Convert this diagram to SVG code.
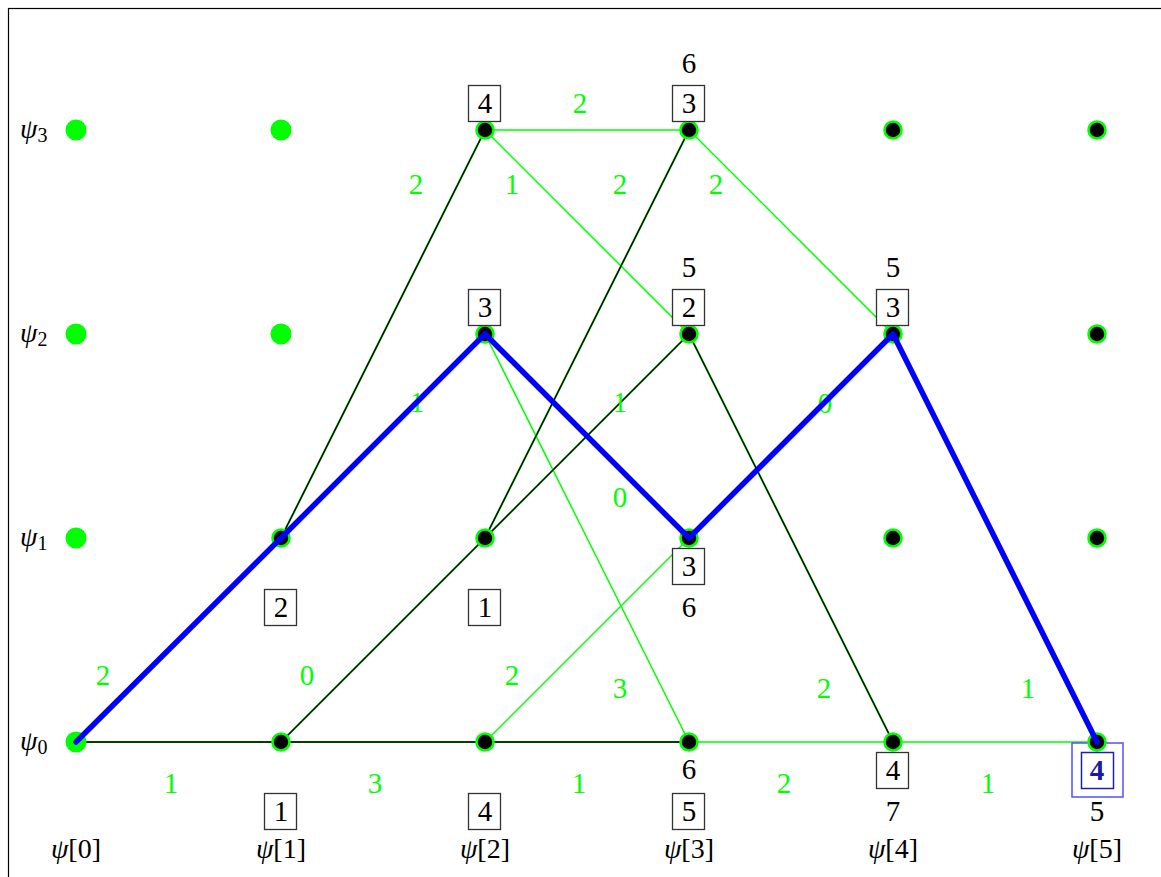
<svg xmlns="http://www.w3.org/2000/svg" width="1161" height="877" viewBox="0 0 1161 877" font-family="'Liberation Serif', 'DejaVu Serif', serif">
<style>
text{font-family:'Liberation Serif','DejaVu Serif',serif;text-anchor:middle;}
.w{fill:#00ff00;font-size:29px;}
.n{fill:#000;font-size:29px;}
.bx{fill:#fff;stroke:#333;stroke-width:1.3;}
.g{stroke:#00ff00;stroke-width:1.5;fill:none;}
.dk{stroke:#00ff00;stroke-width:2.0;fill:none;}
.dk2{stroke:#000;stroke-width:1.4;fill:none;}
.blue{stroke:#0000ff;stroke-width:5.5;fill:none;stroke-linejoin:round;stroke-linecap:round;}
.un{fill:#00ff00;}
.nd{fill:#000;stroke:#00ff00;stroke-width:2.6;}
.lab{font-size:28px;}
</style>
<rect x="8.5" y="8.5" width="1300" height="1000" fill="none" stroke="#000" stroke-width="1.2"/>
<g id="connectors">
<g id="green-edges">
<line class="g" x1="485" y1="130" x2="689" y2="130"/>
<line class="g" x1="485" y1="130" x2="689" y2="334"/>
<line class="g" x1="689" y1="130" x2="893" y2="334"/>
<line class="g" x1="485" y1="334" x2="689" y2="742"/>
<line class="g" x1="485" y1="742" x2="689" y2="538"/>
<line class="g" x1="689" y1="742" x2="1097" y2="742"/>
</g>
<g id="dark-edges">
<path class="dk" d="M76,742H485M281,742L485,538L689,334M281,538L485,130M485,538L689,130M485,742H689M689,334L893,742"/>
<path class="dk2" d="M76,742H485M281,742L485,538L689,334M281,538L485,130M485,538L689,130M485,742H689M689,334L893,742"/>
</g>
</g>
<g id="weights">
<text class="w" x="580" y="113">2</text>
<text class="w" x="416" y="194">2</text>
<text class="w" x="512" y="194">1</text>
<text class="w" x="620" y="194">2</text>
<text class="w" x="716" y="194">2</text>
<text class="w" x="417" y="412">1</text>
<text class="w" x="620" y="412">1</text>
<text class="w" x="825" y="413">0</text>
<text class="w" x="620" y="507">0</text>
<text class="w" x="103" y="685">2</text>
<text class="w" x="307" y="685">0</text>
<text class="w" x="512" y="685">2</text>
<text class="w" x="620" y="698">3</text>
<text class="w" x="824" y="698">2</text>
<text class="w" x="1028" y="698">1</text>
<text class="w" x="171" y="793">1</text>
<text class="w" x="375" y="793">3</text>
<text class="w" x="579" y="793">1</text>
<text class="w" x="784" y="793">2</text>
<text class="w" x="988" y="793">1</text>
</g>
<g id="path-box">
<rect x="1072" y="743" width="51" height="54" fill="none" stroke="#5050ff" stroke-width="1.5"/>
</g>
<g id="nodes">
<g id="n0-0"><circle class="un" cx="76" cy="742" r="10.5"/></g>
<g id="n0-1"><circle class="un" cx="76" cy="538" r="10.5"/></g>
<g id="n0-2"><circle class="un" cx="76" cy="334" r="10.5"/></g>
<g id="n0-3"><circle class="un" cx="76" cy="130" r="10.5"/></g>
<g id="n1-0"><circle class="nd" cx="281" cy="742" r="8.5"/></g>
<g id="n1-1"><circle class="nd" cx="281" cy="538" r="8.5"/></g>
<g id="n1-2"><circle class="un" cx="281" cy="334" r="10.5"/></g>
<g id="n1-3"><circle class="un" cx="281" cy="130" r="10.5"/></g>
<g id="n2-0"><circle class="nd" cx="485" cy="742" r="8.5"/></g>
<g id="n2-1"><circle class="nd" cx="485" cy="538" r="8.5"/></g>
<g id="n2-2"><circle class="nd" cx="485" cy="334" r="8.5"/></g>
<g id="n2-3"><circle class="nd" cx="485" cy="130" r="8.5"/></g>
<g id="n3-0"><circle class="nd" cx="689" cy="742" r="8.5"/></g>
<g id="n3-1"><circle class="nd" cx="689" cy="538" r="8.5"/></g>
<g id="n3-2"><circle class="nd" cx="689" cy="334" r="8.5"/></g>
<g id="n3-3"><circle class="nd" cx="689" cy="130" r="8.5"/></g>
<g id="n4-0"><circle class="nd" cx="893" cy="742" r="8.5"/></g>
<g id="n4-1"><circle class="nd" cx="893" cy="538" r="8.5"/></g>
<g id="n4-2"><circle class="nd" cx="893" cy="334" r="8.5"/></g>
<g id="n4-3"><circle class="nd" cx="893" cy="130" r="8.5"/></g>
<g id="n5-0"><circle class="nd" cx="1097" cy="742" r="8.5"/></g>
<g id="n5-1"><circle class="nd" cx="1097" cy="538" r="8.5"/></g>
<g id="n5-2"><circle class="nd" cx="1097" cy="334" r="8.5"/></g>
<g id="n5-3"><circle class="nd" cx="1097" cy="130" r="8.5"/></g>
</g>
<g id="survivor-path">
<polyline class="blue" points="76,742 281,538 485,334 689,538 893,334 1097,742"/>
</g>
<g id="metrics">
<g><rect class="bx" x="468.5" y="85.5" width="32" height="36"/><text class="n" x="485" y="113">4</text></g>
<g><rect class="bx" x="672.5" y="85.5" width="32" height="36"/><text class="n" x="689" y="113">3</text></g>
<text class="n" x="689" y="73">6</text>
<g><rect class="bx" x="468.5" y="289.5" width="32" height="36"/><text class="n" x="485" y="317">3</text></g>
<g><rect class="bx" x="672.5" y="289.5" width="32" height="36"/><text class="n" x="689" y="317">2</text></g>
<text class="n" x="689" y="277">5</text>
<g><rect class="bx" x="876.5" y="289.5" width="32" height="36"/><text class="n" x="893" y="317">3</text></g>
<text class="n" x="893" y="277">5</text>
<g><rect class="bx" x="264.5" y="589.5" width="32" height="36"/><text class="n" x="281" y="617">2</text></g>
<g><rect class="bx" x="468.5" y="589.5" width="32" height="36"/><text class="n" x="485" y="617">1</text></g>
<g><rect class="bx" x="672.5" y="548.5" width="32" height="36"/><text class="n" x="689" y="576">3</text></g>
<text class="n" x="689" y="617">6</text>
<g><rect class="bx" x="264.5" y="793.5" width="32" height="36"/><text class="n" x="281" y="821">1</text></g>
<g><rect class="bx" x="468.5" y="793.5" width="32" height="36"/><text class="n" x="485" y="821">4</text></g>
<g><rect class="bx" x="672.5" y="793.5" width="32" height="36"/><text class="n" x="689" y="821">5</text></g>
<text class="n" x="689" y="779">6</text>
<g><rect class="bx" x="876.5" y="752.5" width="32" height="36"/><text class="n" x="893" y="780">4</text></g>
<text class="n" x="893" y="821">7</text>
<g><rect x="1081.5" y="752.5" width="32" height="36" fill="#fff" stroke="#2020b0" stroke-width="1.5"/><text x="1097" y="780" font-size="29" fill="#1a1aa8" font-weight="bold">4</text></g>
<text class="n" x="1097" y="821">5</text>
</g>
<g id="axis-labels">
<text class="lab" x="76" y="858"><tspan font-style="italic">ψ</tspan>[0]</text>
<text class="lab" x="281" y="858"><tspan font-style="italic">ψ</tspan>[1]</text>
<text class="lab" x="485" y="858"><tspan font-style="italic">ψ</tspan>[2]</text>
<text class="lab" x="689" y="858"><tspan font-style="italic">ψ</tspan>[3]</text>
<text class="lab" x="893" y="858"><tspan font-style="italic">ψ</tspan>[4]</text>
<text class="lab" x="1097" y="858"><tspan font-style="italic">ψ</tspan>[5]</text>
<text x="20" y="138" font-size="28" style="text-anchor:start"><tspan font-style="italic">ψ</tspan><tspan font-size="20" dy="4">3</tspan></text>
<text x="20" y="342" font-size="28" style="text-anchor:start"><tspan font-style="italic">ψ</tspan><tspan font-size="20" dy="4">2</tspan></text>
<text x="20" y="546" font-size="28" style="text-anchor:start"><tspan font-style="italic">ψ</tspan><tspan font-size="20" dy="4">1</tspan></text>
<text x="20" y="750" font-size="28" style="text-anchor:start"><tspan font-style="italic">ψ</tspan><tspan font-size="20" dy="4">0</tspan></text>
</g>
</svg>
